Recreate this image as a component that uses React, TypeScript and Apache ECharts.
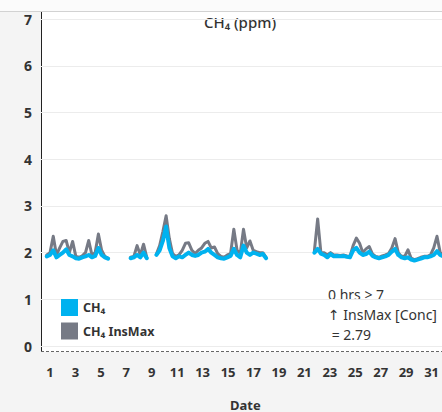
import React, { useEffect, useRef } from "react";
import * as echarts from "echarts";

// Sampling step (days) of the readings
const STEP = 0.25;

// Segment start days (data gaps in between)
const segStarts = [0.75, 7.25, 9.25, 21.5];

// CH4 concentration (ppm) per segment
const ch4Seg1 = [1.92, 1.95, 2.05, 1.9, 1.95, 2.0, 2.07, 1.95, 1.92, 1.88, 1.87, 1.9, 1.92, 1.95, 1.9, 1.93, 2.1, 1.95, 1.9, 1.87];
const ch4Seg2 = [1.88, 1.9, 1.95, 1.9, 2.0, 1.88];
const ch4Seg3 = [1.95, 2.05, 2.25, 2.56, 2.1, 1.92, 1.88, 1.92, 1.9, 1.95, 2.0, 1.95, 1.93, 1.95, 2.0, 2.02, 2.08, 2.0, 1.95, 1.9, 1.88, 1.87, 1.9, 1.93, 2.08, 1.95, 1.9, 2.15, 2.0, 1.95, 2.0, 1.98, 1.95, 1.97, 1.88];
const ch4Seg4 = [2.0, 2.08, 1.98, 1.95, 1.9, 1.97, 1.92, 1.93, 1.92, 1.93, 1.91, 1.9, 2.05, 2.1, 2.0, 1.95, 1.97, 2.02, 1.93, 1.9, 1.88, 1.9, 1.92, 1.95, 2.02, 2.08, 1.95, 1.9, 1.88, 1.9, 1.85, 1.83, 1.85, 1.87, 1.9, 1.9, 1.92, 1.95, 2.03, 1.95, 1.92];

// CH4 instantaneous max (ppm) per segment
const insSeg1 = [1.95, 2.0, 2.35, 1.95, 2.1, 2.24, 2.26, 2.0, 2.24, 1.92, 1.9, 1.93, 2.0, 2.26, 1.95, 2.0, 2.4, 2.05, 1.92, 1.88];
const insSeg2 = [1.9, 1.92, 2.15, 1.95, 2.18, 1.9];
const insSeg3 = [1.97, 2.15, 2.45, 2.79, 2.3, 1.98, 1.92, 1.95, 2.05, 2.2, 2.21, 2.05, 1.98, 2.05, 2.1, 2.2, 2.24, 2.1, 2.12, 1.98, 1.92, 1.9, 1.95, 1.98, 2.5, 2.05, 1.98, 2.5, 2.1, 2.25, 2.05, 2.02, 2.0, 2.0, 1.9];
const insSeg4 = [2.05, 2.72, 2.0, 2.0, 1.95, 2.0, 1.95, 1.95, 1.94, 1.95, 1.93, 1.92, 2.15, 2.31, 2.2, 2.0, 2.08, 2.13, 1.97, 1.92, 1.9, 1.93, 1.95, 1.98, 2.1, 2.3, 2.0, 1.92, 1.92, 2.06, 1.88, 1.85, 1.87, 1.9, 1.92, 1.92, 1.95, 2.1, 2.35, 2.0, 1.95];

const xTickDays = [1, 31]; // x label range, every 2 days
const yTicks = [0, 7];

const seriesNames = ["CH\u2084", "CH\u2084 InsMax"];
const annotationLines = ["0 hrs > 7", "\u2191 InsMax [Conc]", " = 2.79"];

function buildData(segs: number[][]) {
  const out: any[] = [];
  segs.forEach((vals, s) => {
    const start = segStarts[s];
    vals.forEach((v, k) => out.push([start + k * STEP, v]));
    out.push([start + vals.length * STEP, "-"]);
  });
  return out;
}

const FONT = "'Noto Sans', 'DejaVu Sans', sans-serif";

export default function App() {
  const ref = useRef<HTMLDivElement>(null);
  useEffect(() => {
    document.body.style.margin = "0";
    if (!ref.current) return;
    const chart = echarts.init(ref.current, undefined, { renderer: "svg" });
    const ch4Data = buildData([ch4Seg1, ch4Seg2, ch4Seg3, ch4Seg4]);
    const insData = buildData([insSeg1, insSeg2, insSeg3, insSeg4]);
    const option: any = {
      animation: false,
      grid: [
        { left: 41, right: 0, top: 19.2, bottom: 66 },
        { left: 50, right: 5, top: 19.2, bottom: 60 },
      ],
      xAxis: [
        { gridIndex: 0, type: "value", min: 0.3, max: 31.39, show: false },
        {
          gridIndex: 1,
          type: "value",
          min: xTickDays[0],
          max: xTickDays[1],
          interval: 2,
          axisLine: { show: false },
          axisTick: { show: false },
          splitLine: { show: false },
          axisLabel: { margin: 13, fontSize: 13, fontWeight: "bold", color: "#333", fontFamily: FONT },
        },
      ],
      yAxis: [
        {
          gridIndex: 0,
          type: "value",
          min: yTicks[0],
          max: yTicks[1],
          interval: 1,
          axisLine: { show: false },
          axisTick: { show: false },
          splitLine: { lineStyle: { color: "#ececec", width: 1 } },
          axisLabel: { margin: 9, fontSize: 14, fontWeight: "bold", color: "#333", fontFamily: FONT },
        },
        { gridIndex: 1, type: "value", min: 0, max: 7, show: false },
      ],
      legend: {
        orient: "vertical",
        left: 61,
        top: 299,
        padding: 0,
        itemWidth: 17,
        itemHeight: 17,
        itemGap: 6.5,
        icon: "rect",
        data: [seriesNames[0], seriesNames[1]],
        textStyle: { fontSize: 12.5, fontWeight: "bold", color: "#333", fontFamily: FONT },
      },
      series: [
        {
          name: seriesNames[1],
          type: "line",
          xAxisIndex: 0,
          yAxisIndex: 0,
          data: insData,
          showSymbol: false,
          symbol: "none",
          color: "#767a85",
          lineStyle: { width: 3, color: "#767a85", cap: "round", join: "round" },
        },
        {
          name: seriesNames[0],
          type: "line",
          xAxisIndex: 0,
          yAxisIndex: 0,
          data: ch4Data,
          showSymbol: false,
          symbol: "none",
          color: "#00b2ef",
          lineStyle: { width: 4, color: "#00b2ef", cap: "round", join: "round" },
        },
      ],
      graphic: [
        { type: "rect", z: -10, shape: { x: 0, y: 0, width: 442, height: 11 }, style: { fill: "#fbfbfb" } },
        { type: "rect", z: -10, shape: { x: 41, y: 12, width: 401, height: 340 }, style: { fill: "#ffffff" } },
        { type: "line", shape: { x1: 0, y1: 11.5, x2: 442, y2: 11.5 }, style: { stroke: "#d2d2d2", lineWidth: 1 } },
        { type: "line", shape: { x1: 41.5, y1: 12, x2: 41.5, y2: 352 }, style: { stroke: "#222", lineWidth: 1 } },
        { type: "line", shape: { x1: 41, y1: 351.5, x2: 442, y2: 351.5 }, style: { stroke: "#666", lineWidth: 1, lineDash: [3, 2] } },
        {
          type: "text",
          x: 240,
          y: 22,
          style: {
            text: "CH\u2084 (ppm)",
            fontSize: 15,
            fontWeight: 500,
            fill: "#333",
            fontFamily: FONT,
            textAlign: "center",
            textVerticalAlign: "middle",
          },
        },
        {
          type: "text",
          left: 328,
          top: 284,
          style: {
            text: annotationLines.join("\n"),
            fontSize: 14,
            lineHeight: 20,
            fill: "#333",
            fontFamily: FONT,
          },
        },
        {
          type: "text",
          left: 230,
          top: 398,
          style: { text: "Date", fontSize: 13, fontWeight: "bold", fill: "#333", fontFamily: FONT },
        },
      ],
    };
    chart.setOption(option);
    return () => chart.dispose();
  }, []);
  return (
    <div style={{ width: 442, height: 412, background: "#f4f4f4" }}>
      <div ref={ref} style={{ width: 442, height: 412 }} />
    </div>
  );
}
